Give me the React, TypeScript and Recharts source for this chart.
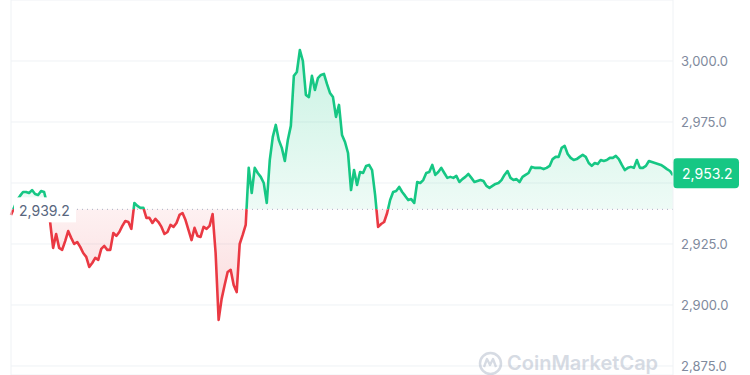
import React from 'react';
import { AreaChart, Area, XAxis, YAxis, CartesianGrid, ReferenceLine } from 'recharts';

// 24h price (evenly spaced samples)
const prices: number[] = [
  2936.9, 2939.8, 2943.0, 2944.7, 2946.3, 2946.3, 2945.9, 2947.1, 2945.5, 2945.1,
  2946.7, 2946.3, 2941.4, 2934.0, 2923.4, 2929.1, 2923.4, 2922.6, 2926.2, 2930.3,
  2927.5, 2925.0, 2925.8, 2923.8, 2921.3, 2919.7, 2915.6, 2917.2, 2919.3, 2918.5,
  2923.0, 2924.2, 2922.6, 2922.6, 2929.5, 2928.3, 2929.9, 2932.4, 2934.4, 2934.0,
  2931.2, 2941.8, 2940.6, 2939.8, 2939.8, 2935.7, 2935.7, 2933.6, 2935.3, 2934.0,
  2932.0, 2929.1, 2929.9, 2932.8, 2932.0, 2933.6, 2936.9, 2937.7, 2934.8, 2930.7,
  2926.6, 2931.6, 2928.3, 2927.9, 2932.0, 2931.2, 2932.4, 2937.3, 2921.3, 2893.9,
  2902.5, 2908.2, 2913.5, 2914.4, 2908.2, 2905.3, 2925.0, 2928.7, 2932.8, 2956.2,
  2945.9, 2956.2, 2954.1, 2952.5, 2950.0, 2941.8, 2959.4, 2968.9, 2973.8, 2967.6,
  2964.4, 2959.0, 2967.6, 2973.4, 2993.9, 2995.5, 3004.5, 3000.0, 2986.1, 2985.2,
  2993.9, 2988.1, 2993.0, 2994.3, 2994.7, 2990.6, 2986.9, 2985.2, 2977.1, 2982.0,
  2969.7, 2966.8, 2962.3, 2947.1, 2955.3, 2949.2, 2954.5, 2954.1, 2957.0, 2957.4,
  2955.3, 2945.1, 2932.0, 2933.2, 2934.0, 2937.7, 2943.0, 2946.3, 2946.7, 2948.4,
  2946.3, 2944.7, 2943.0, 2943.4, 2941.8, 2950.4, 2950.0, 2951.2, 2954.1, 2954.5,
  2957.4, 2953.3, 2954.5, 2956.2, 2954.1, 2952.1, 2952.5, 2952.1, 2952.9, 2950.4,
  2951.6, 2952.5, 2953.7, 2952.1, 2950.4, 2950.8, 2951.2, 2950.8, 2948.8, 2948.0,
  2948.8, 2949.6, 2950.0, 2951.2, 2953.3, 2954.9, 2952.1, 2951.2, 2951.6, 2950.4,
  2952.5, 2953.3, 2954.1, 2956.6, 2956.2, 2956.2, 2956.2, 2955.7, 2956.2, 2957.0,
  2959.8, 2960.7, 2960.7, 2964.4, 2965.2, 2961.9, 2960.3, 2959.4, 2959.8, 2960.7,
  2961.5, 2960.7, 2958.2, 2957.0, 2958.2, 2957.8, 2959.4, 2959.0, 2959.4, 2960.3,
  2960.3, 2961.1, 2959.8, 2957.4, 2955.3, 2956.2, 2956.6, 2956.2, 2959.4, 2956.2,
  2956.2, 2957.0, 2959.0, 2958.6, 2958.2, 2957.8, 2957.4, 2956.6, 2955.7, 2954.9,
  2953.2,
];

const openPrice = 2939.2;
const lastPrice = 2953.2;
const yTicks = [2875, 2900, 2925, 2950, 2975, 3000];

const GREEN = '#16c784';
const RED = '#ea3943';

const fmt = (v: number) =>
  v.toLocaleString('en-US', { minimumFractionDigits: 1, maximumFractionDigits: 1 });

const OpenLabel = (props: any) => {
  const { viewBox } = props;
  return (
    <g>
      <rect x={viewBox.x + 3} y={viewBox.y - 12} width={62} height={25} fill="#fff" />
      <text x={viewBox.x + 8} y={viewBox.y + 1} dominantBaseline="central" fill="#58667e" fontSize={14} fontFamily="Inter">
        {fmt(openPrice)}
      </text>
    </g>
  );
};

const LastLabel = (props: any) => {
  const { viewBox } = props;
  const x = viewBox.x + viewBox.width;
  return (
    <g>
      <rect x={x} y={viewBox.y - 17} width={66} height={30} rx={4} fill={GREEN} />
      <text x={x + 9} y={viewBox.y - 2} dominantBaseline="central" fill="#fff" fontSize={14} fontFamily="Inter">
        {fmt(lastPrice)}
      </text>
    </g>
  );
};

export default function App() {
  const data = prices.map((price, i) => ({ i, price }));
  const max = Math.max(...prices);
  const min = Math.min(...prices);
  const off = (max - openPrice) / (max - min);

  return (
    <div style={{ position: 'absolute', left: 0, top: 0, width: 750, height: 375, background: '#fff', overflow: 'hidden' }}>
      <AreaChart width={750} height={375} data={data} margin={{ top: 0, right: 0, left: 11, bottom: 0 }}>
        <defs>
          <linearGradient id="lineGrad" x1="0" y1="0" x2="0" y2="1">
            <stop offset={off} stopColor={GREEN} />
            <stop offset={off} stopColor={RED} />
          </linearGradient>
          <linearGradient id="fillGrad" x1="0" y1="0" x2="0" y2="1">
            <stop offset={0} stopColor={GREEN} stopOpacity={0.38} />
            <stop offset={off} stopColor={GREEN} stopOpacity={0.12} />
            <stop offset={off} stopColor={RED} stopOpacity={0.12} />
            <stop offset={1} stopColor={RED} stopOpacity={0.32} />
          </linearGradient>
        </defs>
        <CartesianGrid vertical={false} stroke="#eff2f5" />
        <XAxis dataKey="i" type="number" domain={[0, prices.length - 1]} hide />
        <YAxis
          orientation="right"
          width={77}
          domain={[2871.3, 3025]}
          ticks={yTicks}
          allowDataOverflow
          axisLine={{ stroke: '#eff2f5' }}
          tickLine={false}
          tick={{ fill: '#808a9d', fontSize: 13, fontFamily: 'Inter' }}
          tickFormatter={(v: number) => (v === 2950 ? '' : fmt(v))}
        />
        <ReferenceLine x={0} stroke="#eff2f5" />
        <Area
          type="linear"
          dataKey="price"
          baseValue={openPrice}
          stroke="url(#lineGrad)"
          strokeWidth={2.6}
          strokeLinejoin="round"
          fill="url(#fillGrad)"
          dot={false}
          activeDot={false}
          isAnimationActive={false}
        />
        <ReferenceLine y={openPrice} stroke="#a6b0c3" strokeDasharray="1 4" label={<OpenLabel />} />
        <ReferenceLine y={lastPrice} stroke="none" label={<LastLabel />} />
      </AreaChart>
      <div style={{ position: 'absolute', left: 478, top: 351, display: 'flex', alignItems: 'center', opacity: 0.45 }}>
        <svg width={25} height={25} viewBox="0 0 25 25">
          <circle cx={12.5} cy={12.5} r={10.5} fill="none" stroke="#a6b0c3" strokeWidth={2.5} />
          <path d="M6 16 L9 8 L12 14 L15 8 L18 16" fill="none" stroke="#a6b0c3" strokeWidth={2.3} strokeLinejoin="round" />
        </svg>
        <span style={{ marginLeft: 4, fontFamily: 'Inter', fontWeight: 600, fontSize: 20, color: '#a6b0c3', lineHeight: '25px' }}>
          CoinMarketCap
        </span>
      </div>
    </div>
  );
}
